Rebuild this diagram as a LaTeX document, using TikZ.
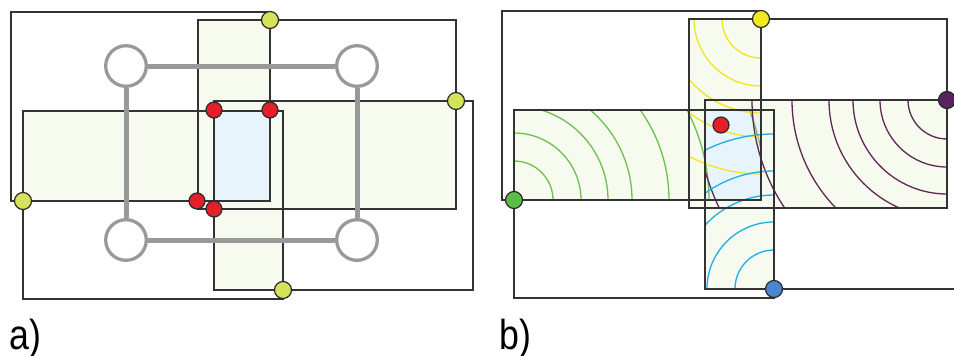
\documentclass[tikz,border=0pt]{standalone}
\usepackage{fontspec}
\setmainfont{Liberation Sans}
\definecolor{lgreen}{HTML}{F6FAEF}
\definecolor{lblue}{HTML}{E8F4FC}
\definecolor{framec}{HTML}{333333}
\definecolor{graynd}{HTML}{999999}
\definecolor{dotline}{HTML}{2A2A2A}
\definecolor{ygdot}{HTML}{D4E35A}
\definecolor{reddot}{HTML}{E3202A}
\definecolor{yedot}{HTML}{F2E820}
\definecolor{pudot}{HTML}{5A2260}
\definecolor{grdot}{HTML}{5DBB4A}
\definecolor{bldot}{HTML}{4A86D0}
\definecolor{garc}{HTML}{6CC24A}
\definecolor{yarc}{HTML}{F2E51E}
\definecolor{barc}{HTML}{1EAEE8}
\definecolor{parc}{HTML}{5E2A55}
\tikzset{
 frame/.style={draw=framec, line width=1.4},
 gnode/.style={circle, draw=graynd, line width=3.3, fill=white, minimum size=40.6, inner sep=0},
 gedge/.style={draw=graynd, line width=5},
 dot/.style={circle, draw=dotline, line width=1.2, minimum size=17, inner sep=0},
 rdot/.style={circle, draw=dotline, line width=1.2, minimum size=16, inner sep=0, fill=reddot},
 arcline/.style={line width=1.3},
 lbl/.style={font=\fontsize{42}{42}\selectfont, anchor=base west, inner sep=0, xscale=0.85}
}
\newcommand\panelfills[2]{%
\begin{scope}[shift={(#1,#2)}]
 \fill[lgreen] (198,20) rectangle (270,201);
 \fill[lgreen] (23,111) rectangle (270,201);
 \fill[lgreen] (214,101) rectangle (456,209);
 \fill[lgreen] (214,111) rectangle (283,290);
 \fill[lgreen] (198,111) rectangle (283,209);
 \fill[lblue] (214,111) rectangle (270,201);
\end{scope}}
\newcommand\panelframes[2]{%
\begin{scope}[shift={(#1,#2)}]
 \draw[frame] (11,12) rectangle (270,201);
 \draw[frame] (198,20) rectangle (456,209);
 \draw[frame] (214,101) rectangle (473,290);
 \draw[frame] (23,111) rectangle (283,299);
\end{scope}}
\newcommand\arcset[4]{% center, color, clip corner1, clip corner2
\begin{scope}
 \clip #3 rectangle #4;
 \foreach \r in {39,67,94,118,155,195,252}
  \draw[arcline, #2] (#1) circle[radius=\r pt];
\end{scope}}
\begin{document}
\begin{tikzpicture}[x=1pt,y=-1pt]
\useasboundingbox (0,0) rectangle (954,356);
\clip (0,0) rectangle (954,356);
% ---------- panel a ----------
\panelfills{0}{0}
\panelframes{0}{0}
\node[gnode] (n1) at (126,66) {};
\node[gnode] (n2) at (357,66) {};
\node[gnode] (n3) at (126,240) {};
\node[gnode] (n4) at (357,240) {};
\draw[gedge] (n1) -- (n2);
\draw[gedge] (n3) -- (n4);
\draw[gedge] (n1) -- (n3);
\draw[gedge] (n2) -- (n4);
\node[dot, fill=ygdot] (ay1) at (270,20) {};
\node[dot, fill=ygdot] (ay2) at (456,101) {};
\node[dot, fill=ygdot] (ay3) at (283,290) {};
\node[dot, fill=ygdot] (ay4) at (23,201) {};
\node[rdot] (ar1) at (214,110) {};
\node[rdot] (ar2) at (270,110) {};
\node[rdot] (ar3) at (197,201) {};
\node[rdot] (ar4) at (214,209) {};
\node[lbl] (la) at (9,349) {a)};
% ---------- panel b ----------
\panelfills{491}{-1}
\coordinate (cy) at (761,19);
\coordinate (cp) at (947,100);
\coordinate (cb) at (774,289);
\coordinate (cg) at (514,200);
\arcset{cg}{garc}{(514,110)}{(761,200)}
\arcset{cy}{yarc}{(689,19)}{(761,200)}
\arcset{cp}{parc}{(705,100)}{(947,208)}
\arcset{cb}{barc}{(705,110)}{(774,289)}
\panelframes{491}{-1}
\node[dot, fill=yedot] (by) at (cy) {};
\node[dot, fill=pudot] (bp) at (cp) {};
\node[dot, fill=bldot] (bb) at (cb) {};
\node[dot, fill=grdot] (bg) at (cg) {};
\node[rdot] (br) at (721,125) {};
\node[lbl] (lb) at (499,349) {b)};
\end{tikzpicture}
\end{document}
